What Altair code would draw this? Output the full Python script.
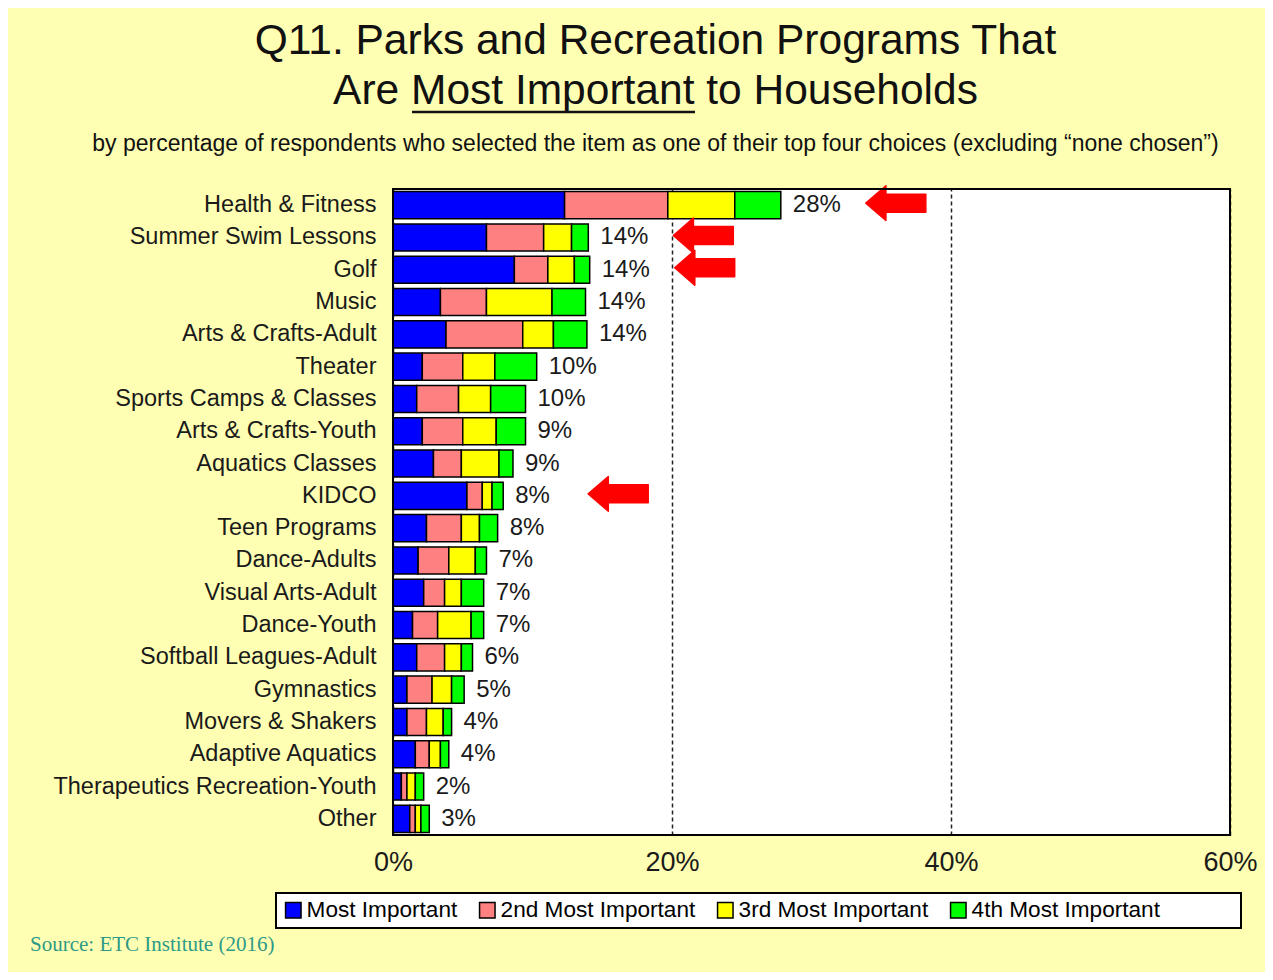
import altair as alt
import pandas as pd

# ---------------- data ----------------
categories = [
    "Health & Fitness", "Summer Swim Lessons", "Golf", "Music", "Arts & Crafts-Adult",
    "Theater", "Sports Camps & Classes", "Arts & Crafts-Youth", "Aquatics Classes", "KIDCO",
    "Teen Programs", "Dance-Adults", "Visual Arts-Adult", "Dance-Youth", "Softball Leagues-Adult",
    "Gymnastics", "Movers & Shakers", "Adaptive Aquatics", "Therapeutics Recreation-Youth", "Other",
]
most_important = [12.3, 6.7, 8.7, 3.4, 3.8, 2.1, 1.7, 2.1, 2.9, 5.3, 2.4, 1.8, 2.2, 1.4, 1.7, 1.0, 1.0, 1.6, 0.6, 1.2]
second_most = [7.4, 4.1, 2.4, 3.3, 5.5, 2.9, 3.0, 2.9, 2.0, 1.1, 2.5, 2.2, 1.5, 1.8, 2.0, 1.8, 1.4, 1.0, 0.4, 0.4]
third_most = [4.8, 2.0, 1.9, 4.7, 2.2, 2.3, 2.3, 2.4, 2.7, 0.7, 1.3, 1.9, 1.2, 2.4, 1.2, 1.4, 1.2, 0.8, 0.6, 0.4]
fourth_most = [3.3, 1.2, 1.1, 2.4, 2.4, 3.0, 2.5, 2.1, 1.0, 0.8, 1.3, 0.8, 1.6, 0.9, 0.8, 0.9, 0.6, 0.6, 0.6, 0.6]
total_labels = ["28%", "14%", "14%", "14%", "14%", "10%", "10%", "9%", "9%", "8%",
                "8%", "7%", "7%", "7%", "6%", "5%", "4%", "4%", "2%", "3%"]
highlighted = ["Health & Fitness", "Summer Swim Lessons", "Golf", "KIDCO"]

levels = ["Most Important", "2nd Most Important", "3rd Most Important", "4th Most Important"]
level_colors = ["#0000FF", "#FF8080", "#FFFF00", "#00FF00"]
x_ticks = [0, 20, 40, 60]

title_line1 = "Q11. Parks and Recreation Programs That"
title_line2 = "Are Most Important to Households"
subtitle = "by percentage of respondents who selected the item as one of their top four choices (excluding \u201cnone chosen\u201d)"
source = "Source: ETC Institute (2016)"

# ---------------- tables ----------------
series = [most_important, second_most, third_most, fourth_most]
rows = []
for i, cat in enumerate(categories):
    for j, lvl in enumerate(levels):
        rows.append({"category": cat, "level": lvl, "rank": j, "value": series[j][i]})
long_df = pd.DataFrame(rows)

totals = [sum(s[i] for s in series) for i in range(len(categories))]
totals_df = pd.DataFrame({"category": categories, "total": totals, "label": total_labels})
arrow_df = totals_df[totals_df["category"].isin(highlighted)]

FONT = "Liberation Sans"
PLOT_W, PLOT_H = 837, 646

x_axis = alt.Axis(
    title=None, values=x_ticks, labelExpr="datum.value + '%'", labelFontSize=27,
    labelPadding=14, ticks=False, domain=False, grid=True, gridColor="#222222",
    gridDash=[4, 3], gridWidth=1.5, labelColor="#1a1a1a", labelFlush=False,
    labelFont=FONT, labelOverlap=False,
)
x_scale = alt.Scale(domain=[0, 60], nice=False, zero=True)
y_axis = alt.Axis(
    title=None, labelFontSize=23.5, labelPadding=17, ticks=False, domain=False,
    labelLimit=400, labelColor="#1a1a1a", labelFont=FONT,
)
y_scale = alt.Scale(paddingInner=0.16, paddingOuter=0.08)

bars = alt.Chart(long_df).mark_bar(stroke="black", strokeWidth=1.5, opacity=1).encode(
    x=alt.X("value:Q", stack="zero", scale=x_scale, axis=x_axis),
    y=alt.Y("category:N", sort=categories, scale=y_scale, axis=y_axis),
    color=alt.Color(
        "level:N",
        scale=alt.Scale(domain=levels, range=level_colors),
        legend=alt.Legend(
            title=None, orient="none", legendX=-111, legendY=710, direction="horizontal",
            symbolType="square", symbolSize=240, symbolStrokeColor="black",
            symbolStrokeWidth=1.5, symbolOpacity=1, labelFontSize=22.6, labelOffset=2,
            columnPadding=18, padding=0, labelLimit=400, labelColor="black", labelFont=FONT,
        ),
    ),
    order=alt.Order("rank:Q", sort="ascending"),
)

value_labels = alt.Chart(totals_df).mark_text(
    align="left", baseline="middle", dx=12, fontSize=24, color="#1a1a1a", font=FONT
).encode(
    x=alt.X("total:Q", scale=x_scale, axis=x_axis),
    y=alt.Y("category:N", sort=categories, scale=y_scale, axis=y_axis),
    text="label:N",
)

arrow_path = "M -1 0 L -0.33 -0.58 L -0.33 -0.3 L 1 -0.3 L 1 0.3 L -0.33 0.3 L -0.33 0.58 Z"
arrows = alt.Chart(arrow_df).mark_point(
    shape=arrow_path, size=3600, filled=True, fill="#FF0000", stroke="#FF0000",
    strokeWidth=1.5, strokeJoin="round", opacity=1, xOffset=115, yOffset=-2,
).encode(
    x=alt.X("total:Q", scale=x_scale, axis=x_axis),
    y=alt.Y("category:N", sort=categories, scale=y_scale, axis=y_axis),
)


def text_layer(txt, x, y, size, color="#111111", font=FONT, align="center"):
    return alt.Chart(pd.DataFrame({"t": [txt]})).mark_text(
        align=align, baseline="alphabetic", fontSize=size, color=color, font=font
    ).encode(text="t:N", x=alt.value(x), y=alt.value(y))


title1 = text_layer(title_line1, 262.5, -135, 42.5)
title2 = text_layer(title_line2, 262.5, -85, 42.5)
sub = text_layer(subtitle, 262.5, -38, 23)
src = text_layer(source, -363, 762, 21, color="#2E9A88", font="Liberation Serif", align="left")

underline = alt.Chart(pd.DataFrame({"t": [0]})).mark_rule(color="#111111", strokeWidth=2.5).encode(
    x=alt.value(19), x2=alt.value(302), y=alt.value(-77)
)

legend_box = alt.Chart(pd.DataFrame({"t": [0]})).mark_rect(
    fill="white", stroke="black", strokeWidth=2
).encode(x=alt.value(-117), x2=alt.value(848), y=alt.value(704), y2=alt.value(739))

plot_border = alt.Chart(pd.DataFrame({"t": [0]})).mark_rect(
    fill="white", fillOpacity=0, stroke="black", strokeWidth=2
).encode(x=alt.value(0), x2=alt.value(PLOT_W), y=alt.value(0), y2=alt.value(PLOT_H))

chart = alt.layer(
    bars, value_labels, arrows, title1, title2, sub, src, underline, legend_box, plot_border
).properties(
    width=PLOT_W, height=PLOT_H,
    padding={"left": 385, "top": 181, "right": 35, "bottom": 137},
    autosize=alt.AutoSizeParams(type="none"),
    background="#FFFFB3",
).configure(
    font=FONT,
    view=alt.ViewConfig(stroke="black", strokeWidth=2, fill="white"),
)

chart.save("out.html", embed_options={"renderer": "svg", "actions": False})
